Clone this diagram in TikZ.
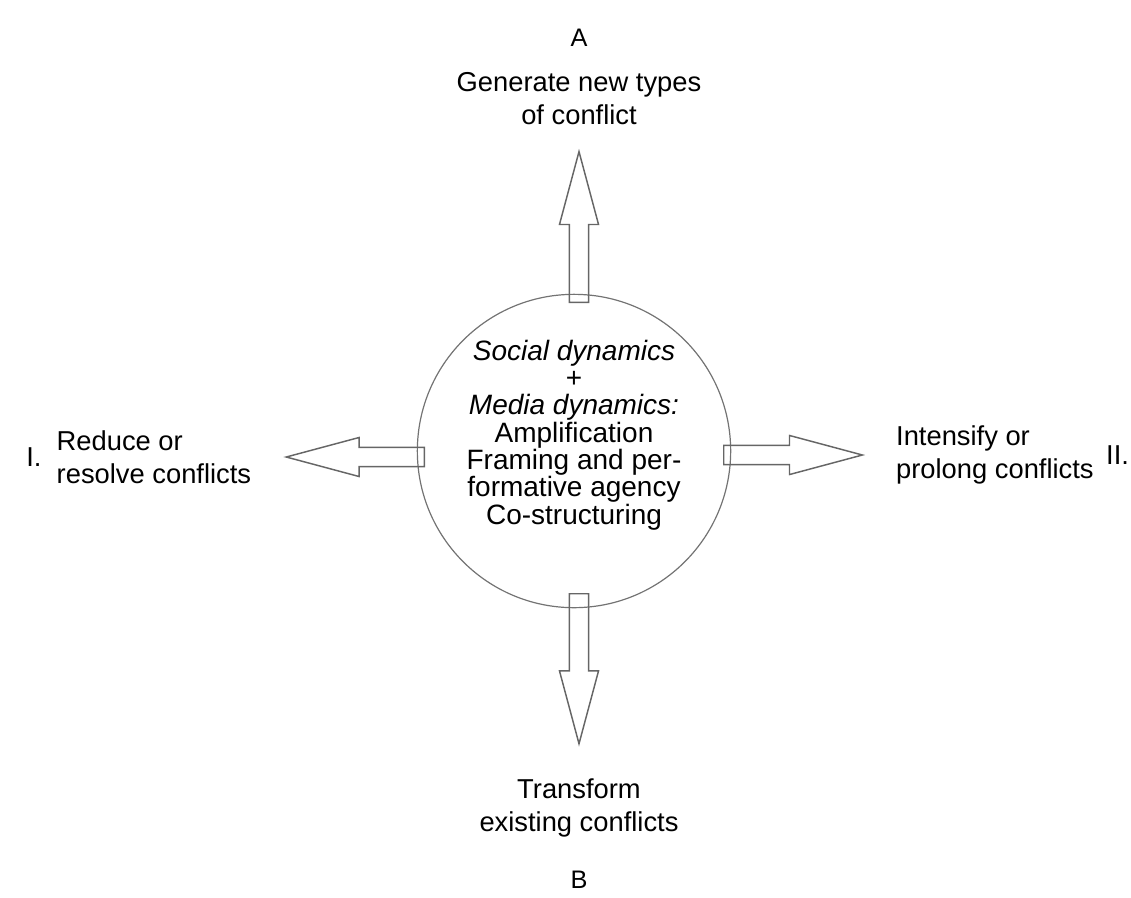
\documentclass[tikz,border=0pt]{standalone}
\usepackage{fontspec}
\setmainfont{Liberation Sans}
\usetikzlibrary {
  positioning,
  shapes.arrows,
}
\tikzset{
  hub/.style = {
    circle,
    draw = black!55,
    line width = 0.9pt,
    minimum size = 235pt,
    inner sep = 0pt
  },
  hubtext/.style = {
    align = center,
    inner sep = 0pt,
    font = \fontsize{21}{20.5}\selectfont
  },
  blockarrow/.style = {
    single arrow,
    draw = black!60,
    line width = 1.1pt,
    single arrow tip angle = 30,
    single arrow head extend = 7.5pt,
    minimum width = 29pt,
    minimum height = #1,
    inner xsep = 0pt,
    inner ysep = 6.6pt,
    anchor = tail
  },
  outcome/.style = {
    align = #1,
    inner sep = 0pt,
    font = \fontsize{20.5}{24.5}\selectfont
  },
  tag/.style = {
    inner sep = 0pt,
    font = \fontsize{19}{19}\selectfont
  },
}
\begin{document}
\begin{tikzpicture}[x = 0.75pt, y = -0.75pt]
  \useasboundingbox (0,0) rectangle (1131,897);
  \node[hub] (hub) at (574,451) {};
  \node[hubtext] (dyn) at ([yshift = 12pt]hub.center) {
    \textit{Social dynamics}\\
    +\\
    \textit{Media dynamics:}\\
    Amplification\\
    Framing and per-\\
    formative agency\\
    Co-structuring
  };
  % arrows out of the circle
  \node[blockarrow = 113pt, rotate = 90] (toA) at (579,303) {};
  \node[blockarrow = 112.5pt, rotate = -90] (toB) at (579,593) {};
  \node[blockarrow = 103.5pt, rotate = 180] (toI) at (425,457) {};
  \node[blockarrow = 104pt] (toII) at (723,455) {};
  % outcomes
  \node[outcome = center, above = 18pt of toA.tip] (gen) {
    Generate new types\\
    of conflict
  };
  \node[tag, above = 19pt of gen] (A) {A};
  \node[outcome = center, below = 24pt of toB.tip] (trans) {
    Transform\\
    existing conflicts
  };
  \node[tag, below = 25pt of trans] (B) {B};
  \node[outcome = left, left = 24pt of toI.tip] (reduce) {
    Reduce or\\
    resolve conflicts
  };
  \node[outcome = left, left = 11pt of reduce] (one) {I.};
  \node[outcome = left, right = 23pt of toII.tip] (intens) {
    Intensify or\\
    prolong conflicts
  };
  \node[outcome = left, right = 9pt of intens] (two) {II.};
\end{tikzpicture}
\end{document}
